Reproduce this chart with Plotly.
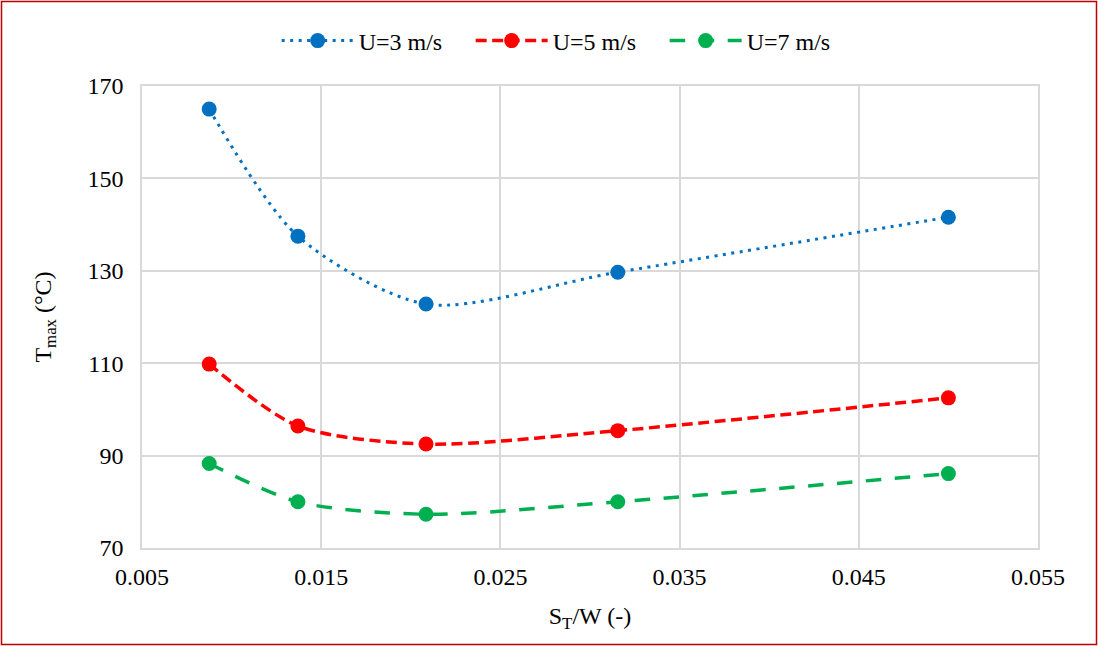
import plotly.graph_objects as go

# Spacing ratio S_T/W and maximum temperature for three air velocities
st_w = [0.00875, 0.0137, 0.02085, 0.03155, 0.0500]
t_u3 = [165.0, 137.5, 122.8, 129.7, 141.6]
t_u5 = [109.8, 96.4, 92.5, 95.4, 102.5]
t_u7 = [88.3, 80.0, 77.3, 80.0, 86.1]

series_names = ["U=3 m/s", "U=5 m/s", "U=7 m/s"]
x_ticks = [0.005, 0.015, 0.025, 0.035, 0.045, 0.055]
y_ticks = [70, 90, 110, 130, 150, 170]

W, H = 1098, 646
ML, MR, MT, MB = 142, 60, 86, 98
PW, PH = W - ML - MR, H - MT - MB

styles = [
    dict(color="#0070C0", width=3, dash="3px,5.5px"),
    dict(color="#FF0000", width=3.5, dash="11px,5.5px"),
    dict(color="#00B050", width=3.5, dash="15.5px,13.5px"),
]

fig = go.Figure()
for name, ys, st in zip(series_names, [t_u3, t_u5, t_u7], styles):
    fig.add_trace(go.Scatter(
        x=st_w, y=ys, name=name, mode="lines+markers",
        line=dict(color=st["color"], width=st["width"], dash=st["dash"],
                  shape="spline", smoothing=0.8),
        marker=dict(size=15, color=st["color"]),
    ))

font_family = "Times New Roman"

fig.update_layout(
    width=W, height=H,
    margin=dict(l=ML, r=MR, t=MT, b=MB, pad=0, autoexpand=False),
    paper_bgcolor="white", plot_bgcolor="white",
    font=dict(family=font_family, size=24, color="#000000"),
    showlegend=True,
    legend=dict(
        orientation="h", xref="container", yref="container",
        x=0.517, xanchor="center", y=1 - 41 / H, yanchor="middle",
        font=dict(size=24, family=font_family), itemwidth=72,
        entrywidth=107, entrywidthmode="pixels",
        bgcolor="rgba(0,0,0,0)",
    ),
    xaxis=dict(
        range=[0.005, 0.055], tickvals=x_ticks,
        ticktext=[f"{v:.3f}" for v in x_ticks],
        showgrid=True, gridcolor="#D9D9D9", gridwidth=1.5,
        showline=True, linecolor="#D9D9D9", linewidth=1.5, mirror=True,
        zeroline=False, ticks="", ticklabelstandoff=6, automargin=False,
        tickfont=dict(size=24, family=font_family),
        title=dict(text="S<sub>T</sub>/W (-)", standoff=19,
                   font=dict(size=24, family=font_family)),
    ),
    yaxis=dict(
        range=[70, 170], tickvals=y_ticks,
        showgrid=True, gridcolor="#D9D9D9", gridwidth=1.5,
        showline=True, linecolor="#D9D9D9", linewidth=1.5, mirror=True,
        zeroline=False, ticks="", ticklabelstandoff=12, automargin=False,
        tickfont=dict(size=24, family=font_family),
        title=dict(text="T<sub>max</sub> (°C)", standoff=29,
                   font=dict(size=24, family=font_family)),
    ),
    shapes=[dict(
        type="rect", xref="paper", yref="paper",
        x0=(1.5 - ML) / PW, x1=(W - 1.5 - ML) / PW,
        y0=(PH + MT - (H - 1.5)) / PH, y1=(PH + MT - 1.5) / PH,
        line=dict(color="#C00000", width=1.5), fillcolor="rgba(0,0,0,0)",
        layer="above",
    )],
)

fig.write_html("out.html")
